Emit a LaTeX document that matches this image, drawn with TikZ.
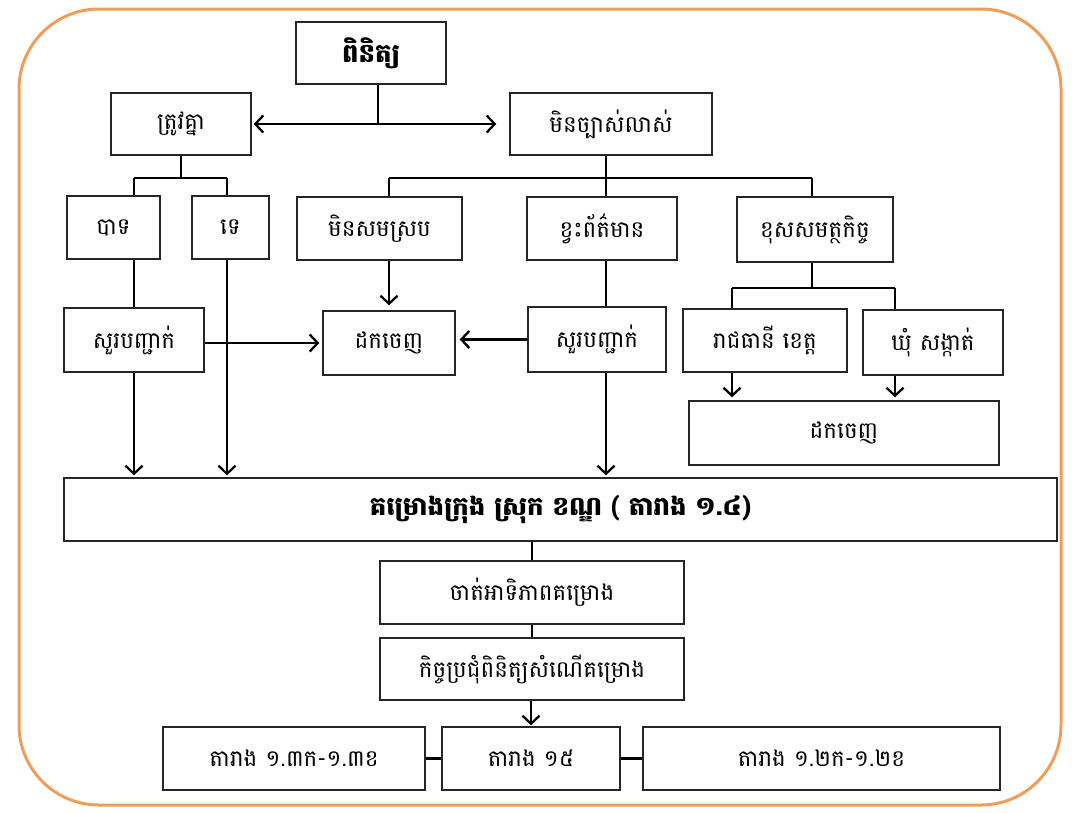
\documentclass[tikz,border=0pt]{standalone}
\usepackage{fontspec}
\newfontfamily\khmer[Script=Khmer]{Battambang}
\usetikzlibrary{arrows.meta}
\definecolor{rimorange}{RGB}{238,158,88}
\tikzset{
  box/.style={draw=black!85,line width=1.4pt,fill=white,inner sep=2pt,
    font=\khmer\fontsize{23}{26}\selectfont},
  link/.style={line width=2.3pt},
  >={Straight Barb[length=8pt,width=17pt]}
}
\begin{document}
\begin{tikzpicture}[x=1pt,y=-1pt]
\useasboundingbox (0,0) rectangle (1076,812);
\draw[rimorange,line width=3pt,rounded corners=80pt] (19,9) rectangle (1061,805);

% boxes
\node[box,minimum width=150pt,minimum height=62pt] (pinit) at (371,53) {\fontsize{26}{28}\selectfont\bfseries ពិនិត្យ};
\node[box,minimum width=140pt,minimum height=62pt] (trov) at (181,124) {ត្រូវគ្នា};
\node[box,minimum width=202pt,minimum height=62pt] (minchbas) at (611,124) {មិនច្បាស់លាស់};
\node[box,minimum width=93pt,minimum height=63pt] (bat) at (113.5,227.5) {បាទ};
\node[box,minimum width=77pt,minimum height=63pt] (te) at (230.5,227.5) {ទេ};
\node[box,minimum width=165pt,minimum height=63pt] (minsom) at (379.5,228.5) {មិនសមស្រប};
\node[box,minimum width=150pt,minimum height=63pt] (khvah) at (602,228.5) {ខ្វះព័ត៌មាន};
\node[box,minimum width=156pt,minimum height=65pt] (khos) at (815,229.5) {ខុសសមត្ថកិច្ច};
\node[box,minimum width=140pt,minimum height=64pt] (suor1) at (134,340) {សួរបញ្ជាក់};
\node[box,minimum width=132pt,minimum height=64pt] (dak1) at (389,343) {ដកចេញ};
\node[box,minimum width=138pt,minimum height=65pt] (suor2) at (597,339.5) {សួរបញ្ជាក់};
\node[box,minimum width=164pt,minimum height=63pt] (reach) at (765,340.5) {រាជធានី ខេត្ត};
\node[box,minimum width=140pt,minimum height=65pt] (khum) at (933,342.5) {ឃុំ សង្កាត់};
\node[box,minimum width=310pt,minimum height=64pt] (dak2) at (844,433) {ដកចេញ};
\node[box,minimum width=993pt,minimum height=63pt] (big) at (560.5,509.5) {\fontsize{26}{28}\selectfont\bfseries គម្រោងក្រុង ស្រុក ខណ្ឌ ( តារាង ១.៤)};
\node[box,minimum width=304pt,minimum height=63pt] (chat) at (532,592.5) {ចាត់អាទិភាពគម្រោង};
\node[box,minimum width=304pt,minimum height=62pt] (kech) at (532,669) {កិច្ចប្រជុំពិនិត្យសំណើគម្រោង};
\node[box,minimum width=262pt,minimum height=63pt] (tab1) at (294,758.5) {តារាង ១.៣ក-១.៣ខ};
\node[box,minimum width=178pt,minimum height=63pt] (tab2) at (531,758.5) {តារាង ១៥};
\node[box,minimum width=357pt,minimum height=63pt] (tab3) at (821.5,758.5) {តារាង ១.២ក-១.២ខ};

% junctions
\coordinate (p0) at (378,124);
\coordinate (t0) at (181,178);
\coordinate (b1) at (134,178);
\coordinate (b2) at (227,178);
\coordinate (m0) at (606,178);
\coordinate (m1) at (389,178);
\coordinate (m3) at (812,178);
\coordinate (k0) at (812,288);
\coordinate (k1) at (732,288);
\coordinate (k2) at (895,288);

% pinit
\draw[link] (pinit.south -| p0) -- (p0);
\draw[link,->,shorten >=2pt] (p0) -- (trov.east);
\draw[link,->,shorten >=13pt] (p0) -- (minchbas.west);

% trov
\draw[link] (trov.south) -- (t0);
\draw[link] (b1) -- (b2);
\draw[link] (b1) -- (bat.north -| b1);
\draw[link] (b2) -- (te.north -| b2);
\draw[link] (bat.south -| b1) -- (suor1.north -| b1);
\draw[link,->,shorten >=2pt] (suor1.south -| b1) -- (big.north -| b1);
\draw[link,->,shorten >=2pt] (te.south -| b2) -- (big.north -| b2);
\draw[link,->,shorten >=3pt] (suor1.east |- dak1) -- (dak1.west);

% minchbas
\draw[link] (minchbas.south -| m0) -- (m0);
\draw[link] (m1) -- (m3);
\draw[link] (m1) -- (minsom.north -| m1);
\draw[link] (m0) -- (khvah.north -| m0);
\draw[link] (m3) -- (khos.north -| m3);
\draw[link,->,shorten >=5pt] (minsom.south -| m1) -- (dak1.north -| m1);
\draw[link] (khvah.south -| m0) -- (suor2.north -| m0);
\draw[link,->,shorten >=2pt] (suor2.south -| m0) -- (big.north -| m0);
\draw[link,->,shorten >=4pt] (suor2.west) -- (dak1.east |- suor2.west);

% khos
\draw[link] (khos.south -| k0) -- (k0);
\draw[link] (k1) -- (k2);
\draw[link] (k1) -- (reach.north -| k1);
\draw[link] (k2) -- (khum.north -| k2);
\draw[link,->,shorten >=3pt] (reach.south -| k1) -- (dak2.north -| k1);
\draw[link,->,shorten >=3pt] (khum.south -| k2) -- (dak2.north -| k2);

% bottom
\draw[link] (big.south -| chat.north) -- (chat.north);
\draw[link] (chat) -- (kech);
\draw[link,->,shorten >=1pt] (kech.south -| tab2.north) -- (tab2.north);
\draw[link] (tab1) -- (tab2);
\draw[link] (tab2) -- (tab3);
\end{tikzpicture}
\end{document}
